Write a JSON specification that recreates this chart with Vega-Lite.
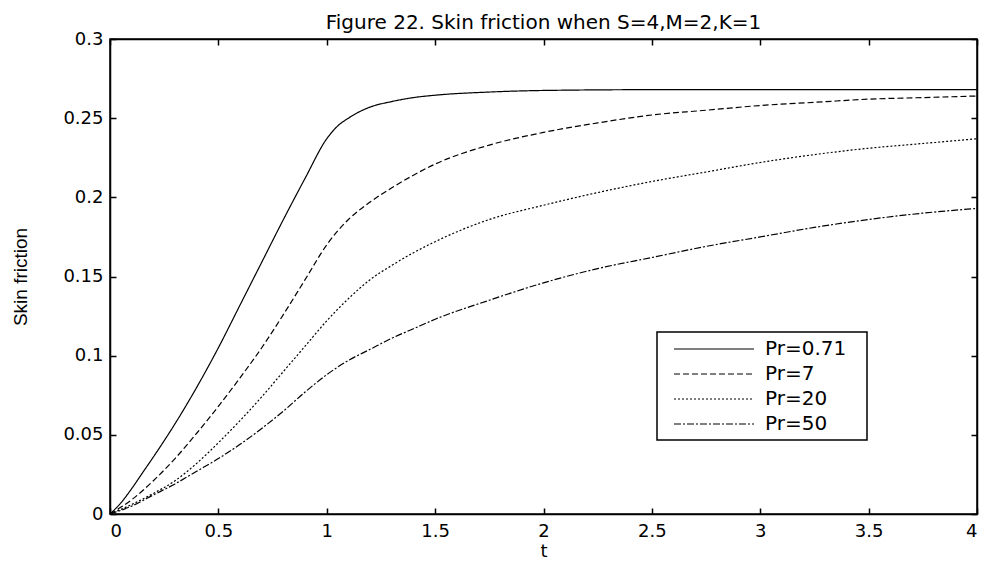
{
  "$schema": "https://vega.github.io/schema/vega-lite/v6.json",
  "width": 867,
  "height": 475,
  "autosize": {"type": "none"},
  "padding": {"left": 110, "top": 39, "right": 11, "bottom": 49},
  "background": "white",
  "title": {"text": "Figure 22. Skin friction when S=4,M=2,K=1", "font": "DejaVu Sans", "fontSize": 20, "fontWeight": "normal", "color": "black", "anchor": "middle", "baseline": "bottom", "offset": -23},
  "config": {
    "view": {"stroke": "black", "strokeWidth": 1.5},
    "axis": {
      "domainColor": "black", "domainWidth": 1.5,
      "tickColor": "black", "tickWidth": 1.5, "tickSize": -6,
      "labelColor": "black", "labelFont": "DejaVu Sans", "labelFontSize": 18,
      "titleColor": "black", "titleFontWeight": "normal",
      "grid": false
    },
    "legend": {
      "orient": "none", "legendX": 547, "legendY": 293,
      "padding": 6, "strokeColor": "black", "strokeWidth": 1.5, "fillColor": "white",
      "cornerRadius": 0,
      "symbolType": "M-4,0H4", "symbolSize": 400, "symbolOffset": 40,
      "symbolStrokeColor": "black", "symbolStrokeWidth": 1.2, "symbolFillColor": "transparent",
      "labelFont": "DejaVu Sans", "labelFontSize": 20, "labelColor": "black", "labelOffset": 40,
      "rowPadding": 4, "title": null
    }
  },
  "data": {"values": [
    {"t": 0, "v": 0, "s": "Pr=0.71"},
    {"t": 0.05, "v": 0.007, "s": "Pr=0.71"},
    {"t": 0.1, "v": 0.016, "s": "Pr=0.71"},
    {"t": 0.15, "v": 0.026, "s": "Pr=0.71"},
    {"t": 0.2, "v": 0.036, "s": "Pr=0.71"},
    {"t": 0.3, "v": 0.057, "s": "Pr=0.71"},
    {"t": 0.4, "v": 0.08, "s": "Pr=0.71"},
    {"t": 0.5, "v": 0.105, "s": "Pr=0.71"},
    {"t": 0.6, "v": 0.132, "s": "Pr=0.71"},
    {"t": 0.7, "v": 0.159, "s": "Pr=0.71"},
    {"t": 0.8, "v": 0.186, "s": "Pr=0.71"},
    {"t": 0.9, "v": 0.212, "s": "Pr=0.71"},
    {"t": 1.0, "v": 0.237, "s": "Pr=0.71"},
    {"t": 1.05, "v": 0.245, "s": "Pr=0.71"},
    {"t": 1.1, "v": 0.25, "s": "Pr=0.71"},
    {"t": 1.15, "v": 0.254, "s": "Pr=0.71"},
    {"t": 1.2, "v": 0.257, "s": "Pr=0.71"},
    {"t": 1.3, "v": 0.2605, "s": "Pr=0.71"},
    {"t": 1.4, "v": 0.263, "s": "Pr=0.71"},
    {"t": 1.5, "v": 0.2645, "s": "Pr=0.71"},
    {"t": 1.75, "v": 0.2665, "s": "Pr=0.71"},
    {"t": 2.0, "v": 0.2675, "s": "Pr=0.71"},
    {"t": 2.5, "v": 0.268, "s": "Pr=0.71"},
    {"t": 3.0, "v": 0.268, "s": "Pr=0.71"},
    {"t": 3.5, "v": 0.268, "s": "Pr=0.71"},
    {"t": 4.0, "v": 0.268, "s": "Pr=0.71"},
    {"t": 0, "v": 0, "s": "Pr=7"},
    {"t": 0.1, "v": 0.009, "s": "Pr=7"},
    {"t": 0.2, "v": 0.021, "s": "Pr=7"},
    {"t": 0.3, "v": 0.035, "s": "Pr=7"},
    {"t": 0.4, "v": 0.051, "s": "Pr=7"},
    {"t": 0.5, "v": 0.068, "s": "Pr=7"},
    {"t": 0.6, "v": 0.086, "s": "Pr=7"},
    {"t": 0.7, "v": 0.105, "s": "Pr=7"},
    {"t": 0.8, "v": 0.126, "s": "Pr=7"},
    {"t": 0.9, "v": 0.148, "s": "Pr=7"},
    {"t": 1.0, "v": 0.17, "s": "Pr=7"},
    {"t": 1.1, "v": 0.186, "s": "Pr=7"},
    {"t": 1.2, "v": 0.197, "s": "Pr=7"},
    {"t": 1.3, "v": 0.206, "s": "Pr=7"},
    {"t": 1.4, "v": 0.214, "s": "Pr=7"},
    {"t": 1.5, "v": 0.221, "s": "Pr=7"},
    {"t": 1.75, "v": 0.233, "s": "Pr=7"},
    {"t": 2.0, "v": 0.241, "s": "Pr=7"},
    {"t": 2.25, "v": 0.247, "s": "Pr=7"},
    {"t": 2.5, "v": 0.252, "s": "Pr=7"},
    {"t": 2.75, "v": 0.255, "s": "Pr=7"},
    {"t": 3.0, "v": 0.258, "s": "Pr=7"},
    {"t": 3.25, "v": 0.26, "s": "Pr=7"},
    {"t": 3.5, "v": 0.262, "s": "Pr=7"},
    {"t": 3.75, "v": 0.263, "s": "Pr=7"},
    {"t": 4.0, "v": 0.264, "s": "Pr=7"},
    {"t": 0, "v": 0, "s": "Pr=20"},
    {"t": 0.1, "v": 0.006, "s": "Pr=20"},
    {"t": 0.2, "v": 0.013, "s": "Pr=20"},
    {"t": 0.3, "v": 0.021, "s": "Pr=20"},
    {"t": 0.4, "v": 0.032, "s": "Pr=20"},
    {"t": 0.5, "v": 0.045, "s": "Pr=20"},
    {"t": 0.6, "v": 0.059, "s": "Pr=20"},
    {"t": 0.7, "v": 0.074, "s": "Pr=20"},
    {"t": 0.8, "v": 0.09, "s": "Pr=20"},
    {"t": 0.9, "v": 0.106, "s": "Pr=20"},
    {"t": 1.0, "v": 0.122, "s": "Pr=20"},
    {"t": 1.1, "v": 0.136, "s": "Pr=20"},
    {"t": 1.2, "v": 0.148, "s": "Pr=20"},
    {"t": 1.3, "v": 0.157, "s": "Pr=20"},
    {"t": 1.4, "v": 0.165, "s": "Pr=20"},
    {"t": 1.5, "v": 0.172, "s": "Pr=20"},
    {"t": 1.75, "v": 0.186, "s": "Pr=20"},
    {"t": 2.0, "v": 0.195, "s": "Pr=20"},
    {"t": 2.25, "v": 0.203, "s": "Pr=20"},
    {"t": 2.5, "v": 0.21, "s": "Pr=20"},
    {"t": 2.75, "v": 0.216, "s": "Pr=20"},
    {"t": 3.0, "v": 0.222, "s": "Pr=20"},
    {"t": 3.25, "v": 0.227, "s": "Pr=20"},
    {"t": 3.5, "v": 0.231, "s": "Pr=20"},
    {"t": 3.75, "v": 0.234, "s": "Pr=20"},
    {"t": 4.0, "v": 0.237, "s": "Pr=20"},
    {"t": 0, "v": 0, "s": "Pr=50"},
    {"t": 0.1, "v": 0.005, "s": "Pr=50"},
    {"t": 0.2, "v": 0.012, "s": "Pr=50"},
    {"t": 0.3, "v": 0.019, "s": "Pr=50"},
    {"t": 0.4, "v": 0.027, "s": "Pr=50"},
    {"t": 0.5, "v": 0.035, "s": "Pr=50"},
    {"t": 0.6, "v": 0.044, "s": "Pr=50"},
    {"t": 0.7, "v": 0.054, "s": "Pr=50"},
    {"t": 0.8, "v": 0.065, "s": "Pr=50"},
    {"t": 0.9, "v": 0.077, "s": "Pr=50"},
    {"t": 1.0, "v": 0.088, "s": "Pr=50"},
    {"t": 1.1, "v": 0.097, "s": "Pr=50"},
    {"t": 1.2, "v": 0.104, "s": "Pr=50"},
    {"t": 1.3, "v": 0.111, "s": "Pr=50"},
    {"t": 1.4, "v": 0.117, "s": "Pr=50"},
    {"t": 1.5, "v": 0.123, "s": "Pr=50"},
    {"t": 1.75, "v": 0.135, "s": "Pr=50"},
    {"t": 2.0, "v": 0.146, "s": "Pr=50"},
    {"t": 2.25, "v": 0.155, "s": "Pr=50"},
    {"t": 2.5, "v": 0.162, "s": "Pr=50"},
    {"t": 2.75, "v": 0.169, "s": "Pr=50"},
    {"t": 3.0, "v": 0.175, "s": "Pr=50"},
    {"t": 3.25, "v": 0.181, "s": "Pr=50"},
    {"t": 3.5, "v": 0.186, "s": "Pr=50"},
    {"t": 3.75, "v": 0.19, "s": "Pr=50"},
    {"t": 4.0, "v": 0.193, "s": "Pr=50"}
  ]},
  "layer": [
    {
      "mark": {"type": "line", "color": "black", "strokeWidth": 1.2, "interpolate": "monotone"},
      "encoding": {
        "x": {"field": "t", "type": "quantitative", "scale": {"domain": [0, 4], "nice": false},
              "axis": {"orient": "bottom", "values": [0, 0.5, 1, 1.5, 2, 2.5, 3, 3.5, 4], "format": "~g", "labelPadding": 14,
                       "title": "t", "titleFont": "DejaVu Sans", "titleFontSize": 18, "titlePadding": 2}},
        "y": {"field": "v", "type": "quantitative", "scale": {"domain": [0, 0.3], "nice": false},
              "axis": {"orient": "left", "values": [0, 0.05, 0.1, 0.15, 0.2, 0.25, 0.3], "format": "~g", "labelPadding": 13,
                       "title": "Skin friction", "titleFont": "Liberation Sans", "titleFontSize": 19, "titlePadding": 32}},
        "strokeDash": {"field": "s", "type": "nominal",
                       "scale": {"domain": ["Pr=0.71", "Pr=7", "Pr=20", "Pr=50"], "range": [[1, 0], [6, 3], [2, 2], [7, 2, 2, 2]]},
                       "legend": {"title": null, "labelExpr": "datum.label + '\u2800'"}}
      }
    },
    {
      "mark": {"type": "line", "opacity": 0},
      "encoding": {
        "x": {"field": "t", "type": "quantitative", "scale": {"domain": [0, 4], "nice": false},
              "axis": {"orient": "top", "values": [0, 0.5, 1, 1.5, 2, 2.5, 3, 3.5, 4], "labels": false, "title": null}},
        "y": {"field": "v", "type": "quantitative", "scale": {"domain": [0, 0.3], "nice": false},
              "axis": {"orient": "right", "values": [0, 0.05, 0.1, 0.15, 0.2, 0.25, 0.3], "labels": false, "title": null}},
        "detail": {"field": "s", "type": "nominal"}
      }
    }
  ],
  "resolve": {"axis": {"x": "independent", "y": "independent"}}
}
